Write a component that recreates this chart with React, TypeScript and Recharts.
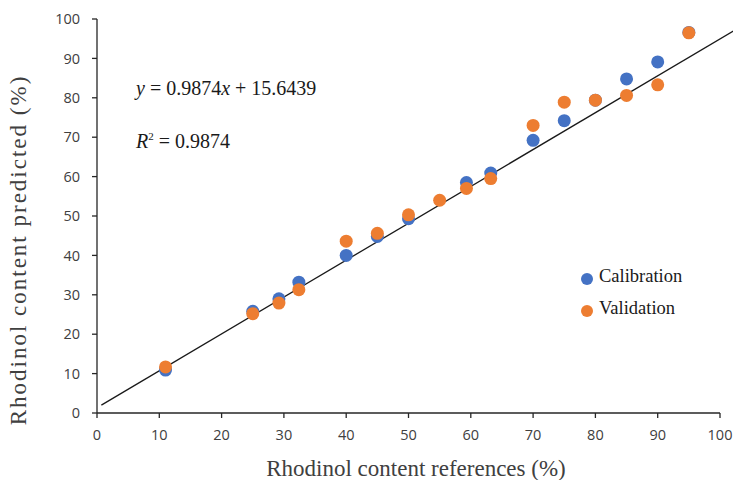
import { ScatterChart, Scatter, XAxis, YAxis, ReferenceLine } from 'recharts'

const calX = [11, 25, 29.2, 32.4, 40, 45, 50, 59.3, 63.2, 70, 75, 80, 85, 90, 95]
const calY = [10.9, 25.8, 29.0, 33.2, 40.0, 44.8, 49.3, 58.5, 60.9, 69.2, 74.2, 79.4, 84.8, 89.1, 96.6]
const valX = [11, 25, 29.2, 32.4, 40, 45, 50, 55, 59.3, 63.2, 70, 75, 80, 85, 90, 95]
const valY = [11.7, 25.2, 27.9, 31.3, 43.6, 45.6, 50.3, 54.0, 57.0, 59.5, 73.0, 78.9, 79.4, 80.6, 83.3, 96.5]
const ticks = [0, 10, 20, 30, 40, 50, 60, 70, 80, 90, 100]
const fitLine = [
  { x: 0.7, y: 2.0 },
  { x: 102.5, y: 97.3 },
]

const calibration = calX.map((x, i) => ({ x, y: calY[i] }))
const validation = valX.map((x, i) => ({ x, y: valY[i] }))

const BLUE = '#4472C4'
const ORANGE = '#ED7D31'
const SERIF = '"Liberation Serif", "DejaVu Serif", serif'
const TICK = { fontSize: 14.5, fill: '#404040', fontFamily: '"Open Sans", sans-serif' }

const dot = (color: string) => (p: any) => <circle cx={p.cx} cy={p.cy} r={6.5} fill={color} />

export default function App() {
  return (
    <div style={{ position: 'absolute', left: 0, top: 0, width: 733, height: 480, background: '#fff' }}>
      <ScatterChart width={733} height={480} margin={{ top: 19, right: 13, left: 0, bottom: 0 }}>
        <XAxis
          type="number"
          dataKey="x"
          domain={[0, 100]}
          ticks={ticks}
          height={67}
          tick={TICK}
          tickSize={5}
          tickMargin={12}
          stroke="#262626"
          strokeWidth={1.3}
          label={() => (
            <text x={416} y={476} textAnchor="middle" fontSize={23} fontFamily={SERIF} fill="#404040">
              Rhodinol content references (%)
            </text>
          )}
        />
        <YAxis
          type="number"
          dataKey="y"
          domain={[0, 100]}
          ticks={ticks}
          width={97}
          tick={TICK}
          tickSize={5}
          tickMargin={12}
          stroke="#262626"
          strokeWidth={1.3}
          label={() => (
            <text
              x={26}
              y={250}
              transform="rotate(-90 26 250)"
              textAnchor="middle"
              fontSize={23}
              letterSpacing={2}
              fontFamily={SERIF}
              fill="#404040"
            >
              Rhodinol content predicted (%)
            </text>
          )}
        />
        <ReferenceLine segment={fitLine} stroke="#1a1a1a" strokeWidth={1.3} ifOverflow="visible" />
        <Scatter data={calibration} fill={BLUE} shape={dot(BLUE)} isAnimationActive={false} />
        <Scatter data={validation} fill={ORANGE} shape={dot(ORANGE)} isAnimationActive={false} />
      </ScatterChart>
      <div style={{ position: 'absolute', left: 136, top: 77, fontFamily: SERIF, fontSize: 20, color: '#1a1a1a', whiteSpace: 'nowrap' }}>
        <i>y</i> = 0.9874<i>x</i> + 15.6439
      </div>
      <div style={{ position: 'absolute', left: 136, top: 130, fontFamily: SERIF, fontSize: 20, color: '#1a1a1a', whiteSpace: 'nowrap' }}>
        <i>R</i>
        <sup style={{ fontSize: 11, verticalAlign: '0.7em' }}>2</sup> = 0.9874
      </div>
      <div style={{ position: 'absolute', left: 581, top: 260, fontFamily: SERIF, fontSize: 18.5, color: '#1a1a1a' }}>
        {[
          { name: 'Calibration', color: BLUE },
          { name: 'Validation', color: ORANGE },
        ].map((d) => (
          <div key={d.name} style={{ display: 'flex', alignItems: 'center', height: 32 }}>
            <span style={{ width: 12, height: 12, borderRadius: '50%', background: d.color, marginRight: 6, marginTop: 6 }} />
            <span>{d.name}</span>
          </div>
        ))}
      </div>
    </div>
  )
}
